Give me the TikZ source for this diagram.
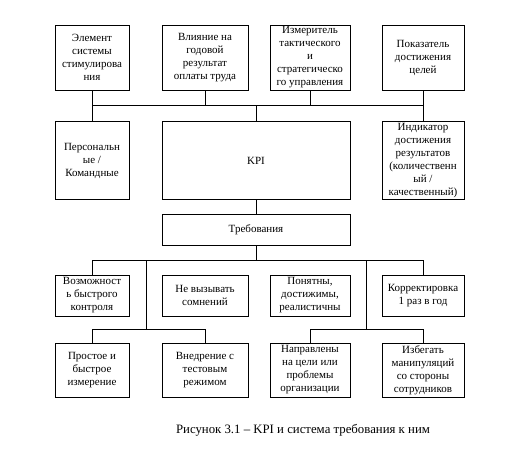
\documentclass[tikz,border=0pt]{standalone}
\usepackage{fontspec}
\setmainfont{Liberation Serif}
\begin{document}
\begin{tikzpicture}[x=1pt,y=-1pt,
  box/.style={draw,line width=0.9pt,align=center,inner sep=1pt,font=\fontsize{11}{13}\selectfont},
  conn/.style={line width=0.9pt}]
\useasboundingbox (0,0) rectangle (525,455);
% row 1
\node[box,minimum width=74,minimum height=65] (b11) at (92,57.5) {Элемент\\системы\\стимулирова\\ния};
\node[box,minimum width=86,minimum height=65] (b12) at (205,57.5) {Влияние на\\годовой\\результат\\оплаты труда};
\node[box,minimum width=80,minimum height=65] (b13) at (310,57.5) {Измеритель\\тактического\\и\\стратегическо\\го управления};
\node[box,minimum width=82,minimum height=65] (b14) at (423,57.5) {Показатель\\достижения\\целей};
% row 2
\node[box,minimum width=74,minimum height=77.5] (b21) at (92,160.5) {Персональн\\ые /\\Командные};
\node[box,minimum width=188,minimum height=77.5] (kpi) at (256,160.5) {KPI};
\node[box,minimum width=82,minimum height=77.5] (b23) at (423,160.5) {Индикатор\\достижения\\результатов\\(количественн\\ый /\\качественный)};
% requirements
\node[box,minimum width=188,minimum height=31] (treb) at (256,229.5) {Требования};
% row 3
\node[box,minimum width=74,minimum height=41] (b31) at (92,295.5) {Возможност\\ь быстрого\\контроля};
\node[box,minimum width=86,minimum height=41] (b32) at (205,295.5) {Не вызывать\\сомнений};
\node[box,minimum width=80,minimum height=41] (b33) at (310,295.5) {Понятны,\\достижимы,\\реалистичны};
\node[box,minimum width=82,minimum height=41] (b34) at (423,295.5) {Корректировка\\1 раз в год};
% row 4
\node[box,minimum width=74,minimum height=54] (b41) at (92,370) {Простое и\\быстрое\\измерение};
\node[box,minimum width=86,minimum height=54] (b42) at (205,370) {Внедрение с\\тестовым\\режимом};
\node[box,minimum width=80,minimum height=54] (b43) at (310,370) {Направлены\\на цели или\\проблемы\\организации};
\node[box,minimum width=82,minimum height=54] (b44) at (423,370) {Избегать\\манипуляций\\со стороны\\сотрудников};
% caption
\node[font=\fontsize{12.8}{15}\selectfont] (cap) at (303,430) {Рисунок 3.1 – KPI и система требования к ним};
% bus coordinates
\coordinate (bus1) at (0,105);
\coordinate (bus2) at (0,260);
\coordinate (bus3) at (0,329);
\coordinate (lt) at (146,260);
\coordinate (rt) at (366,260);
% top bus
\draw[conn] (b11.south) -- (b11.south |- bus1) -- (b14.south |- bus1) -- (b14.south);
\draw[conn] (b12.south) -- (b12.south |- bus1);
\draw[conn] (b13.south) -- (b13.south |- bus1);
\draw[conn] (b21.north) -- (b21.north |- bus1);
\draw[conn] (kpi.north) -- (kpi.north |- bus1);
\draw[conn] (b23.north) -- (b23.north |- bus1);
\draw[conn] (kpi.south) -- (treb.north);
% requirements bus
\draw[conn] (treb.south) -- (treb.south |- bus2);
\draw[conn] (b31.north) -- (b31.north |- bus2) -- (b34.north |- bus2) -- (b34.north);
\draw[conn] (lt) -- (lt |- bus3);
\draw[conn] (rt) -- (rt |- bus3);
\draw[conn] (b41.north) -- (b41.north |- bus3) -- (b42.north |- bus3) -- (b42.north);
\draw[conn] (b43.north) -- (b43.north |- bus3) -- (b44.north |- bus3) -- (b44.north);
\end{tikzpicture}
\end{document}
